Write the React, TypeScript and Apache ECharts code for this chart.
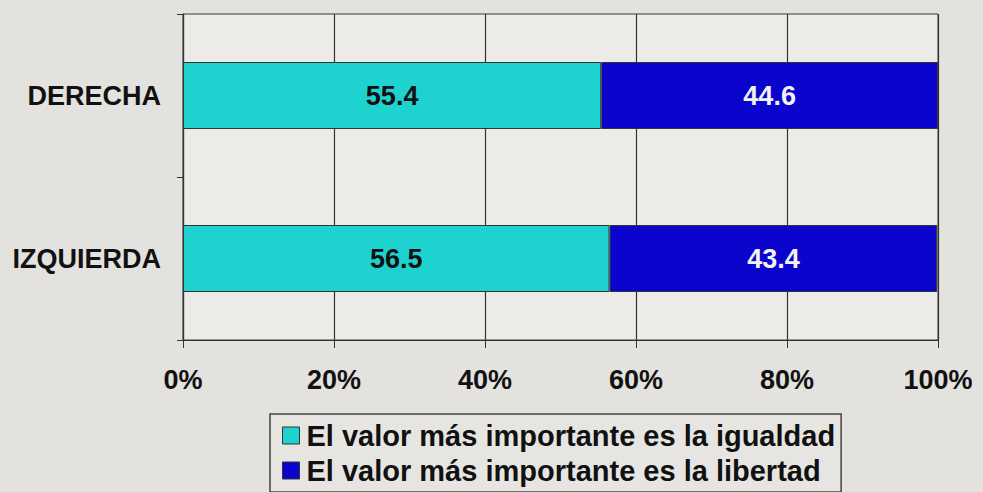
import React, { useEffect, useRef } from "react";
import * as echarts from "echarts";

const categories = ["DERECHA", "IZQUIERDA"];
const seriesNames = [
  "El valor más importante es la igualdad",
  "El valor más importante es la libertad",
];
const igualdad = [55.4, 56.5];
const libertad = [44.6, 43.4];
const xTicks = [0, 20, 40, 60, 80, 100];

export default function App() {
  const ref = useRef<HTMLDivElement>(null);
  useEffect(() => {
    if (!ref.current) return;
    const chart = echarts.init(ref.current, undefined, { renderer: "svg" });
    const font = "'Liberation Sans', Arial, sans-serif";
    chart.setOption({
      animation: false,
      backgroundColor: "#e3e2de",
      textStyle: { fontFamily: font },
      grid: {
        left: 183,
        right: 45,
        top: 14,
        bottom: 152,
        show: true,
        backgroundColor: "#ecebe8",
        borderColor: "#3a3a3a",
        borderWidth: 1,
      },
      legend: {
        orient: "vertical",
        left: 270,
        top: 414,
        padding: [6, 6, 6, 12],
        itemGap: 4,
        itemWidth: 17,
        itemHeight: 17,
        borderColor: "#444",
        borderWidth: 1.5,
        backgroundColor: "#e6e5e1",
        icon: "rect",
        data: seriesNames,
        itemStyle: { borderColor: "#333", borderWidth: 1 },
        textStyle: {
          fontFamily: font,
          fontSize: 29,
          lineHeight: 31,
          fontWeight: "bold",
          color: "#111",
          padding: [0, 0, 0, 2],
        },
      },
      xAxis: {
        type: "value",
        min: 0,
        max: 100,
        interval: 20,
        axisLine: { show: true, lineStyle: { color: "#333", width: 1.2 } },
        axisTick: { show: true, length: 8, lineStyle: { color: "#333" } },
        splitLine: { show: true, lineStyle: { color: "#333", width: 1.2 } },
        axisLabel: {
          margin: 26,
          fontSize: 27,
          fontWeight: "bold",
          color: "#111",
          fontFamily: font,
          formatter: (v: number) => (xTicks.includes(v) ? `${v}%` : ""),
        },
      },
      yAxis: {
        type: "category",
        data: categories,
        inverse: true,
        axisLine: { show: true, lineStyle: { color: "#333", width: 1.2 } },
        axisTick: { show: true, length: 6, lineStyle: { color: "#333" } },
        axisLabel: {
          margin: 22,
          fontSize: 27,
          fontWeight: "bold",
          color: "#111",
          fontFamily: font,
        },
      },
      series: [
        {
          name: seriesNames[0],
          type: "bar",
          stack: "total",
          data: igualdad,
          barWidth: 67,
          itemStyle: { color: "#1dd2cf", borderColor: "#333", borderWidth: 1 },
          label: {
            show: true,
            position: "inside",
            fontSize: 27,
            fontWeight: "bold",
            color: "#111",
            fontFamily: font,
            formatter: (p: any) => p.value.toFixed(1),
          },
        },
        {
          name: seriesNames[1],
          type: "bar",
          stack: "total",
          data: libertad,
          barWidth: 67,
          itemStyle: { color: "#0a04cc", borderColor: "#333", borderWidth: 1 },
          label: {
            show: true,
            position: "inside",
            fontSize: 27,
            fontWeight: "bold",
            color: "#f2f2f2",
            fontFamily: font,
            formatter: (p: any) => p.value.toFixed(1),
          },
        },
      ],
    });
    return () => chart.dispose();
  }, []);
  return (
    <div
      ref={ref}
      style={{ position: "fixed", left: 0, top: 0, width: 983, height: 492 }}
    />
  );
}
